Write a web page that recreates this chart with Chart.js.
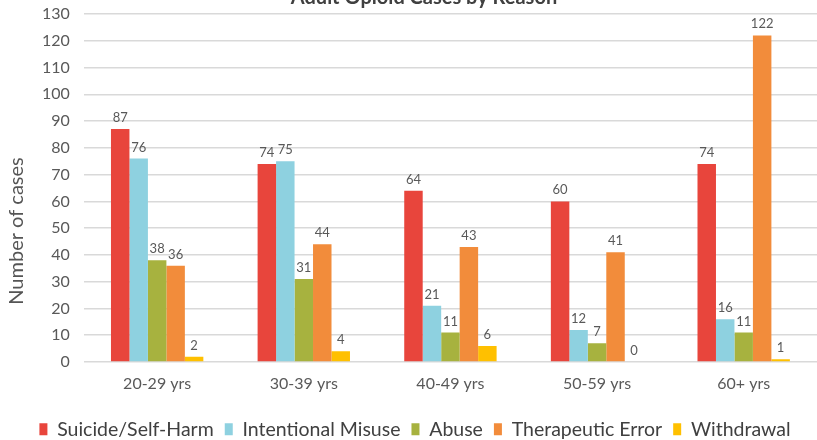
<!DOCTYPE html>
<html>
<head>
<meta charset="utf-8">
<script src="https://cdn.jsdelivr.net/npm/chart.js@4.4.0/dist/chart.umd.min.js"></script>
<style>
html,body{margin:0;padding:0;background:#fff;}
#wrap{position:relative;width:817px;height:440px;overflow:hidden;}
#c{position:absolute;left:0;top:-18px;}
</style>
</head>
<body>
<div id="wrap"><canvas id="c" width="817" height="467"></canvas></div>
<script>
const categories = ['20-29 yrs', '30-39 yrs', '40-49 yrs', '50-59 yrs', '60+ yrs'];
const suicide = [87, 74, 64, 60, 74];
const misuse = [76, 75, 21, 12, 16];
const abuse = [38, 31, 11, 7, 11];
const therapeutic = [36, 44, 43, 41, 122];
const withdrawal = [2, 4, 6, 0, 1];
const seriesNames = ['Suicide/Self-Harm', 'Intentional Misuse', 'Abuse', 'Therapeutic Error', 'Withdrawal'];
const colors = ['#E8453C', '#8ED1E0', '#A7B23F', '#F28C3B', '#FFC000'];
const yTicks = [0, 10, 20, 30, 40, 50, 60, 70, 80, 90, 100, 110, 120, 130];

const seriesValues = [suicide, misuse, abuse, therapeutic, withdrawal];
const FONT = 'Lato, "Open Sans", sans-serif';

const valueLabels = {
  id: 'valueLabels',
  afterDatasetsDraw(chart) {
    const ctx = chart.ctx;
    ctx.save();
    ctx.font = '13px ' + FONT;
    ctx.fillStyle = '#595959';
    ctx.textAlign = 'center';
    ctx.textBaseline = 'alphabetic';
    chart.data.datasets.forEach((ds, i) => {
      const meta = chart.getDatasetMeta(i);
      meta.data.forEach((el, j) => {
        ctx.fillText(String(ds.data[j]), el.x, el.y - 7);
      });
    });
    ctx.restore();
  }
};

const yTitle = {
  id: 'yTitle',
  afterDraw(chart) {
    const ctx = chart.ctx;
    ctx.save();
    ctx.font = '20px ' + FONT;
    ctx.fillStyle = '#555555';
    ctx.textAlign = 'center';
    ctx.textBaseline = 'middle';
    ctx.translate(17, 249);
    ctx.rotate(-Math.PI / 2);
    ctx.fillText('Number of cases', 0, 0);
    ctx.restore();
  }
};

const legendShift = {
  id: 'legendShift',
  afterLayout(chart) {
    if (chart.legend) {
      chart.legend.left -= 9;
      chart.legend.right -= 9;
    }
  }
};

new Chart(document.getElementById('c'), {
  type: 'bar',
  data: {
    labels: categories,
    datasets: seriesNames.map((n, i) => ({
      label: n,
      data: seriesValues[i],
      backgroundColor: colors[i],
      borderWidth: 0,
      categoryPercentage: 0.63,
      barPercentage: 1.0
    }))
  },
  options: {
    responsive: false,
    animation: false,
    layout: { padding: { left: 28, right: -3, top: 0, bottom: 0 } },
    plugins: {
      title: {
        display: true,
        text: 'Adult Opioid Cases by Reason',
        font: { family: FONT, size: 20 },
        color: '#404040',
        padding: { top: 4, bottom: 4 }
      },
      legend: {
        position: 'bottom',
        labels: {
          font: { family: FONT, size: 19.5 },
          color: '#404040',
          boxWidth: 8,
          boxHeight: 12,
          padding: 11
        }
      },
      tooltip: { enabled: false }
    },
    scales: {
      x: {
        grid: { display: false, drawTicks: false },
        border: { display: false },
        ticks: { font: { family: FONT, size: 16 }, color: '#595959', padding: 12 },
        afterFit: (s) => { s.height = 46.5; }
      },
      y: {
        min: 0,
        max: 130,
        border: { display: false },
        grid: {
          drawTicks: false,
          color: (c) => (c.tick && c.tick.value % 10 === 0) ? '#d9d9d9' : '#efefef',
          lineWidth: (c) => (c.tick && c.tick.value % 10 === 0) ? 1.5 : 1
        },
        ticks: {
          stepSize: 5,
          padding: 14,
          font: { family: FONT, size: 16 },
          color: '#595959',
          callback: (v) => yTicks.includes(v) ? String(v) : ''
        }
      }
    }
  },
  plugins: [valueLabels, yTitle, legendShift]
});
</script>
</body>
</html>
